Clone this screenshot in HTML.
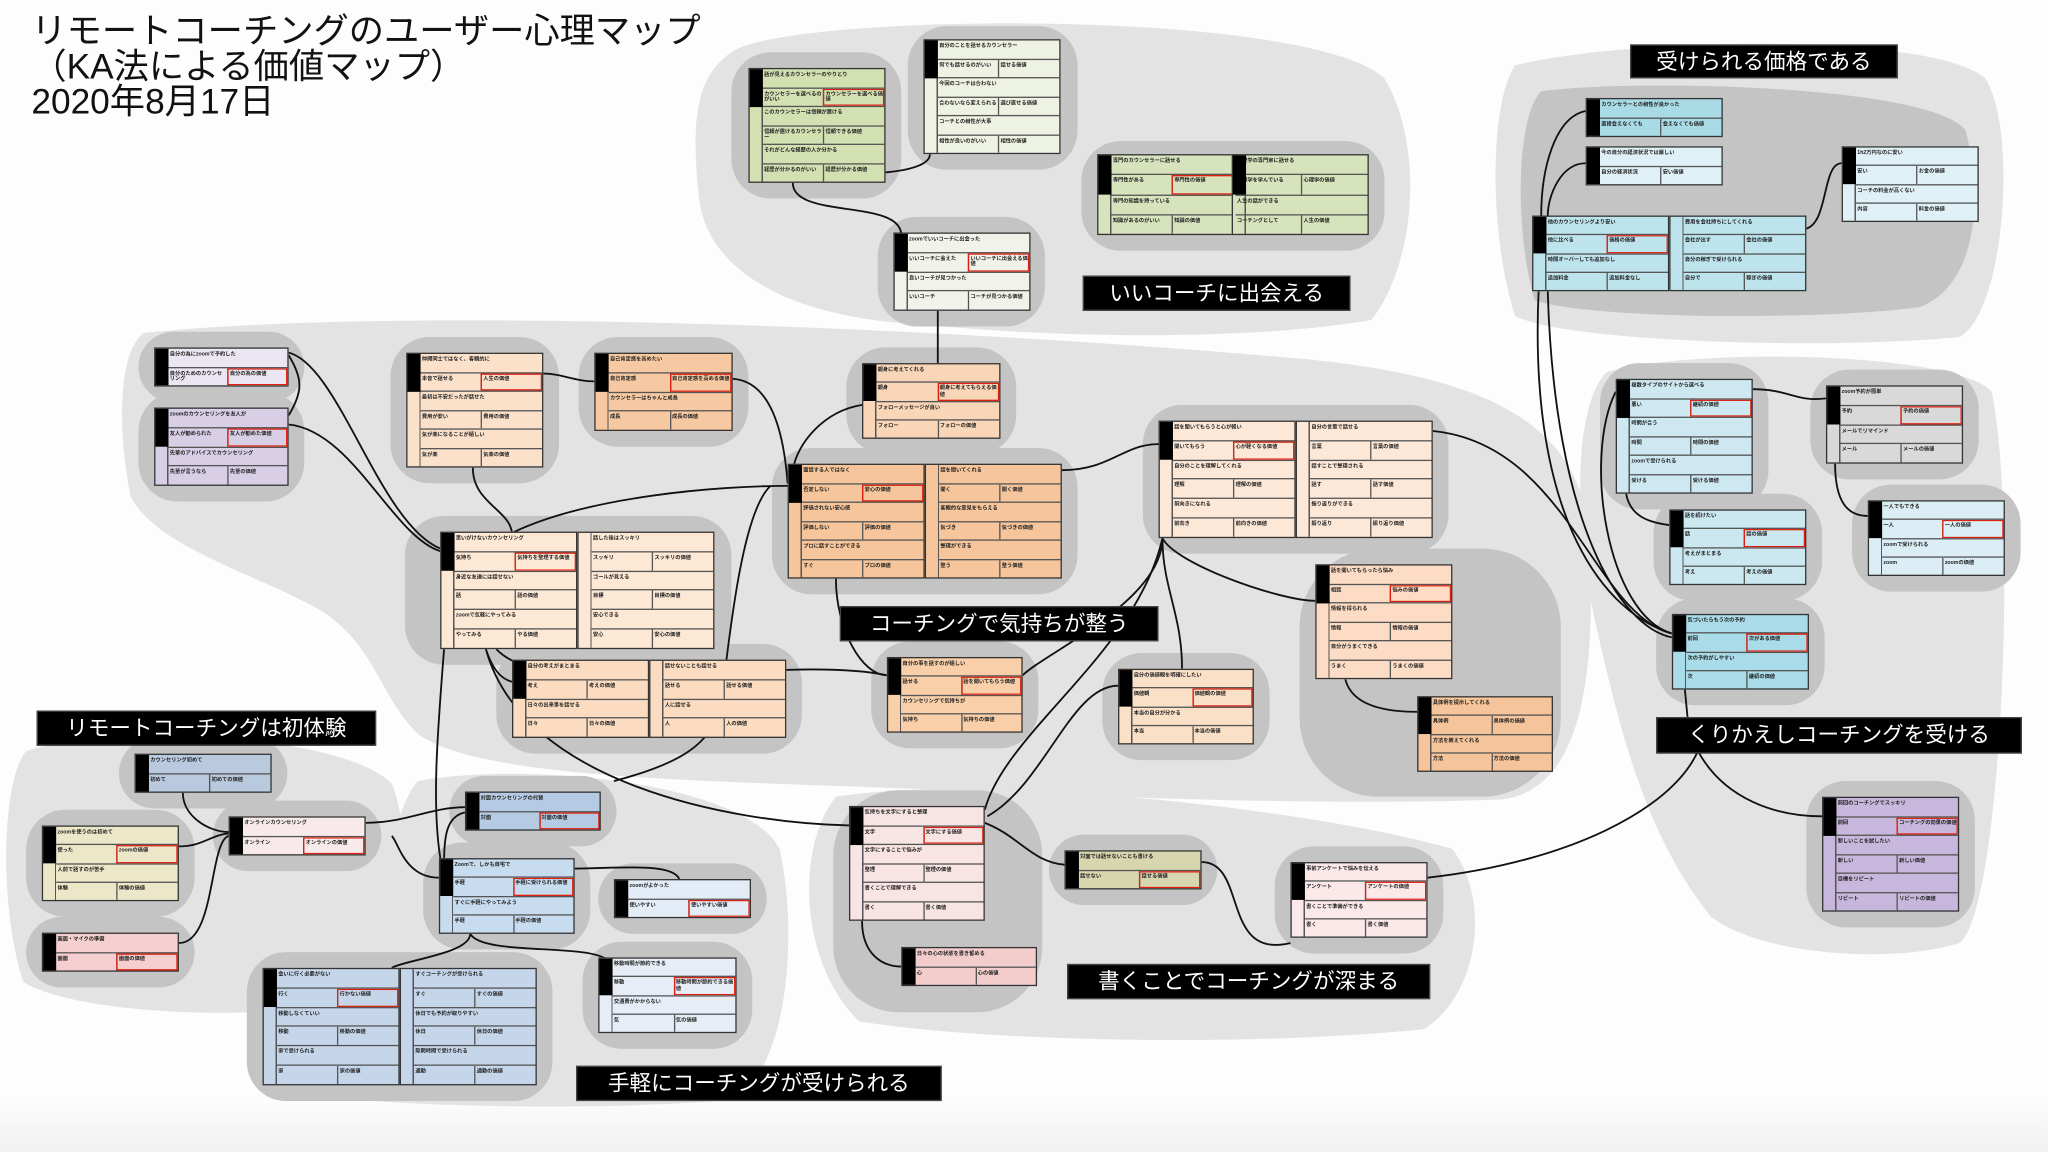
<!DOCTYPE html>
<html><head><meta charset="utf-8">
<style>
html,body{margin:0;padding:0;width:2048px;height:1152px;overflow:hidden;background:#fdfdfd}
#w{position:absolute;left:0;top:0;width:1568px;height:882px;transform:scale(1.30612);transform-origin:0 0;
 background:linear-gradient(to bottom,#fdfdfd 0,#fdfdfd 840px,#f1f1f1 882px)}
svg{position:absolute;left:0;top:0}
.h{position:absolute;background:#c4c4c4;border-radius:30px}
.c{position:absolute;border:1px solid #333;box-sizing:border-box;padding-left:10px;display:flex;flex-direction:column;
 font:bold 4px/1.1 "Liberation Sans","Noto Sans CJK JP",sans-serif;color:#222;
 background:linear-gradient(to right,transparent 9px,#555 9px 10px,transparent 10px),var(--b)}
.c::before{content:"";position:absolute;left:0;top:0;width:10px;height:var(--k,33.4%);background:#000}
.c>div{flex:1;border-bottom:1px solid #555;display:flex;overflow:hidden}
.c>div:last-child{border-bottom:0}
.c>div>span{flex:1;padding:2px 1px;overflow:hidden}
.c>div>span+span{border-left:1px solid #555}
.r{outline:1.5px solid #e02010;outline-offset:-1.5px}
.k4{--k:50%}.k2{--k:100%}
.L{position:absolute;background:#000;color:#fff;font:16.5px/27px "Liberation Sans","Noto Sans CJK JP",sans-serif;text-align:center;white-space:nowrap;border:1px solid #444;box-sizing:border-box;height:27px}
.t{position:absolute;left:24px;top:11px;font:27px/27px "Liberation Sans","Noto Sans CJK JP",sans-serif;color:#111;white-space:nowrap}
</style></head><body><div id="w">
<svg width="1568" height="882" viewBox="0 0 1568 882">
<g fill="#e3e3e3">
<path d="M560,40 C600,10 1000,5 1060,60 C1090,110 1085,200 1050,245 C950,262 800,258 700,248 C600,242 540,205 535,150 C530,100 530,60 560,40Z"/>
<path d="M1160,50 C1250,28 1480,25 1520,60 C1545,100 1535,240 1500,258 C1400,268 1200,262 1160,242 C1140,180 1140,80 1160,50Z"/>
<path d="M110,255 C300,235 700,248 1000,275 C1150,290 1215,330 1217,420 C1222,520 1210,605 1150,612 C1000,618 800,608 650,602 C500,597 360,592 320,562 C290,532 290,500 250,470 C200,440 120,420 100,380 C90,330 90,270 110,255Z"/>
<path d="M1230,285 C1300,265 1500,270 1525,300 C1545,400 1532,700 1500,722 C1450,738 1350,732 1310,702 C1260,640 1240,560 1220,470 C1205,400 1205,310 1230,285Z"/>
<path d="M20,575 C80,555 260,560 300,600 C320,650 305,742 262,767 C200,782 60,777 18,752 C0,700 0,600 20,575Z"/>
<path d="M320,598 C400,583 570,598 597,650 C612,720 602,822 560,842 C450,852 250,847 203,832 C188,790 198,720 258,700 C300,680 300,620 320,598Z"/>
<path d="M640,610 C750,592 1000,618 1112,650 C1142,690 1132,762 1090,788 C950,802 750,797 658,782 C613,740 608,650 640,610Z"/>
</g>
<path d="M1180,70 C1250,60 1480,65 1505,100 C1520,160 1510,220 1470,235 C1400,245 1220,245 1175,230 C1160,180 1160,90 1180,70Z" fill="#c4c4c4"/>
</svg>
<div class="h" style="left:560px;top:40px;width:130px;height:112px"></div>
<div class="h" style="left:695px;top:20px;width:130px;height:110px"></div>
<div class="h" style="left:828px;top:108px;width:232px;height:84px"></div>
<div class="h" style="left:672px;top:166px;width:128px;height:84px"></div>
<div class="h" style="left:106px;top:254px;width:127px;height:54px"></div>
<div class="h" style="left:106px;top:300px;width:127px;height:84px"></div>
<div class="h" style="left:299px;top:258px;width:129px;height:112px"></div>
<div class="h" style="left:443px;top:258px;width:130px;height:84px"></div>
<div class="h" style="left:648px;top:266px;width:130px;height:82px"></div>
<div class="h" style="left:591px;top:343px;width:234px;height:112px"></div>
<div class="h" style="left:310px;top:395px;width:250px;height:114px"></div>
<div class="h" style="left:875px;top:310px;width:234px;height:114px"></div>
<div class="h" style="left:380px;top:493px;width:234px;height:84px"></div>
<div class="h" style="left:667px;top:491px;width:128px;height:82px"></div>
<div class="h" style="left:844px;top:500px;width:128px;height:82px"></div>
<div class="h" style="left:995px;top:420px;width:200px;height:190px;border-radius:60px"></div>
<div class="h" style="left:1225px;top:278px;width:129px;height:112px"></div>
<div class="h" style="left:1386px;top:283px;width:129px;height:84px"></div>
<div class="h" style="left:1266px;top:378px;width:129px;height:82px"></div>
<div class="h" style="left:1418px;top:371px;width:129px;height:82px"></div>
<div class="h" style="left:1268px;top:458px;width:129px;height:82px"></div>
<div class="h" style="left:1383px;top:598px;width:129px;height:112px"></div>
<div class="h" style="left:91px;top:565px;width:129px;height:54px"></div>
<div class="h" style="left:20px;top:620px;width:129px;height:82px"></div>
<div class="h" style="left:163px;top:613px;width:129px;height:54px"></div>
<div class="h" style="left:20px;top:702px;width:129px;height:54px"></div>
<div class="h" style="left:344px;top:594px;width:128px;height:54px"></div>
<div class="h" style="left:324px;top:645px;width:128px;height:82px"></div>
<div class="h" style="left:458px;top:661px;width:129px;height:54px"></div>
<div class="h" style="left:189px;top:729px;width:234px;height:114px"></div>
<div class="h" style="left:446px;top:721px;width:130px;height:82px"></div>
<div class="h" style="left:638px;top:605px;width:160px;height:170px;border-radius:50px"></div>
<div class="h" style="left:803px;top:639px;width:129px;height:54px"></div>
<div class="h" style="left:976px;top:648px;width:129px;height:82px"></div>

<svg width="1568" height="882" viewBox="0 0 1568 882" fill="none" stroke="#111" stroke-width="1.4">
<path d="M607,140 C607,168 690,152 690,180"/>
<path d="M678,132 C700,130 712,125 712,118"/>
<path d="M718,238 L718,278"/>
<path d="M221,270 C260,280 290,400 337,420"/>
<path d="M221,272 C232,290 232,300 221,318"/>
<path d="M221,325 C270,330 300,410 337,422"/>
<path d="M362,358 C362,385 390,390 392,408"/>
<path d="M416,286 C430,286 440,292 455,292"/>
<path d="M561,290 C590,292 600,330 603,370"/>
<path d="M392,408 C450,380 550,372 603,372"/>
<path d="M660,310 C630,315 610,340 607,360"/>
<path d="M590,372 C570,390 560,470 552,540 C545,570 520,585 470,598"/>
<path d="M372,497 C378,515 385,520 392,522"/>
<path d="M380,497 C420,540 600,500 679,517"/>
<path d="M640,443 C640,482 660,517 679,517"/>
<path d="M813,360 C850,360 860,340 887,340"/>
<path d="M890,412 C890,460 800,500 783,517"/>
<path d="M890,412 C890,450 905,470 905,512"/>
<path d="M890,412 C900,432 980,460 1007,460"/>
<path d="M1097,330 C1200,340 1220,470 1280,485"/>
<path d="M1030,520 C1035,540 1060,545 1085,545"/>
<path d="M856,525 C820,525 800,600 756,625"/>
<path d="M340,497 C335,560 330,620 338,662"/>
<path d="M372,497 C400,600 560,630 650,632"/>
<path d="M754,620 C770,560 870,500 890,412"/>
<path d="M754,630 C780,640 790,660 815,662"/>
<path d="M660,705 C660,730 675,740 690,740"/>
<path d="M920,660 C955,660 935,735 988,722"/>
<path d="M1093,672 C1200,660 1280,620 1300,575"/>
<path d="M1292,549 L1290,528"/>
<path d="M1300,575 C1320,612 1360,625 1395,625"/>
<path d="M1178,223 C1170,400 1230,470 1280,485"/>
<path d="M1185,223 C1190,400 1240,480 1280,488"/>
<path d="M1214,85 C1190,90 1180,130 1180,165"/>
<path d="M1214,125 C1195,125 1185,150 1185,165"/>
<path d="M1383,175 C1400,170 1395,125 1410,125"/>
<path d="M1237,300 C1212,350 1230,470 1280,485"/>
<path d="M1342,298 C1370,298 1375,308 1398,305"/>
<path d="M1245,378 C1248,395 1262,400 1278,402"/>
<path d="M1405,355 C1405,385 1415,395 1430,395"/>
<path d="M140,607 C140,625 160,637 175,637"/>
<path d="M137,648 C155,648 160,640 175,638"/>
<path d="M137,722 C165,722 160,645 175,640"/>
<path d="M280,630 C310,630 330,618 356,618"/>
<path d="M356,622 C342,625 340,640 340,660"/>
<path d="M336,672 C310,672 305,645 300,640"/>
<path d="M440,665 C470,665 515,660 520,673"/>
<path d="M360,715 C360,730 310,735 300,741"/>
<path d="M360,715 C370,732 450,722 465,735"/>
</svg>

<div class="t">リモートコーチングのユーザー心理マップ<br>（KA法による価値マップ）<br>2020年8月17日</div>

<div class="c" style="left:573px;top:52px;width:105px;height:88px;--b:#d3e1b2"><div><span>話が見えるカウンセラーのやりとり</span></div><div><span>カウンセラーを選べるのがいい</span><span class="r">カウンセラーを選べる価値</span></div><div><span>このカウンセラーは信頼が置ける</span></div><div><span>信頼が置けるカウンセラー</span><span>信頼できる価値</span></div><div><span>それがどんな経歴の人か分かる</span></div><div><span>経歴が分かるのがいい</span><span>経歴が分かる価値</span></div></div>
<div class="c" style="left:707px;top:30px;width:105px;height:88px;--b:#eef2e3"><div><span>自分のことを話せるカウンセラー</span></div><div><span>何でも話せるのがいい</span><span>話せる価値</span></div><div><span>今回のコーチは合わない</span></div><div><span>合わないなら変えられる</span><span>選び直せる価値</span></div><div><span>コーチとの相性が大事</span></div><div><span>相性が良いのがいい</span><span>相性の価値</span></div></div>
<div class="c k4" style="left:840px;top:118px;width:105px;height:62px;--b:#d6e3bc"><div><span>専門のカウンセラーに話せる</span></div><div><span>専門性がある</span><span class="r">専門性の価値</span></div><div><span>専門の知識を持っている</span></div><div><span>知識があるのがいい</span><span>知識の価値</span></div></div>
<div class="c k4" style="left:943px;top:118px;width:105px;height:62px;--b:#d6e3bc;padding-left:2px"><div><span>心理学の専門家に話せる</span></div><div><span>心理学を学んでいる</span><span>心理学の価値</span></div><div><span>人生の話ができる</span></div><div><span>コーチングとして</span><span>人生の価値</span></div></div>
<div class="c k4" style="left:684px;top:178px;width:105px;height:60px;--b:#f1f3ea"><div><span>zoomでいいコーチに出会った</span></div><div><span>いいコーチに会えた</span><span class="r">いいコーチに出会える価値</span></div><div><span>良いコーチが見つかった</span></div><div><span>いいコーチ</span><span>コーチが見つかる価値</span></div></div>
<div class="L" style="left:829px;top:211px;width:205px">いいコーチに出会える</div>

<div class="L" style="left:1248px;top:34px;width:205px;height:26px;line-height:26px">受けられる価格である</div>
<div class="c k2" style="left:1214px;top:75px;width:105px;height:30px;--b:#a9dbe6"><div><span>カウンセラーとの相性が良かった</span></div><div><span>直接会えなくても</span><span>会えなくても価値</span></div></div>
<div class="c k2" style="left:1214px;top:112px;width:105px;height:30px;--b:#dff1f6"><div><span>今の自分の経済状況では厳しい</span></div><div><span>自分の経済状況</span><span>安い価値</span></div></div>
<div class="c k4" style="left:1173px;top:165px;width:105px;height:58px;--b:#bde3ec"><div><span>他のカウンセリングより安い</span></div><div><span>他に比べる</span><span class="r">価格の価値</span></div><div><span>時間オーバーしても追加なし</span></div><div><span>追加料金</span><span>追加料金なし</span></div></div>
<div class="c k4" style="left:1278px;top:165px;width:105px;height:58px;--b:#bde3ec;--k:0%"><div><span>費用を会社持ちにしてくれる</span></div><div><span>会社が出す</span><span>会社の価値</span></div><div><span>自分の稼ぎで受けられる</span></div><div><span>自分で</span><span>稼ぎの価値</span></div></div>
<div class="c k4" style="left:1410px;top:112px;width:105px;height:58px;--b:#dff0f6"><div><span>1h2万円なのに安い</span></div><div><span>安い</span><span>お金の価値</span></div><div><span>コーチの料金が高くない</span></div><div><span>内容</span><span>料金の価値</span></div></div>

<div class="c k2" style="left:118px;top:266px;width:103px;height:30px;--b:#ebe6f2"><div><span>自分の為にzoomで予約した</span></div><div><span>自分のためのカウンセリング</span><span class="r">自分の為の価値</span></div></div>
<div class="c k4" style="left:118px;top:312px;width:103px;height:60px;--b:#d8cfe7"><div><span>zoomのカウンセリングを友人が</span></div><div><span>友人が勧められた</span><span class="r">友人が勧めた価値</span></div><div><span>先輩のアドバイスでカウンセリング</span></div><div><span>先輩が言うなら</span><span>先輩の価値</span></div></div>
<div class="c" style="left:311px;top:270px;width:105px;height:88px;--b:#fbe1ca"><div><span>仲間同士ではなく、客観的に</span></div><div><span>本音で話せる</span><span class="r">人生の価値</span></div><div><span>最初は不安だったが話せた</span></div><div><span>費用が安い</span><span>費用の価値</span></div><div><span>気が楽になることが嬉しい</span></div><div><span>気が楽</span><span>気楽の価値</span></div></div>
<div class="c k4" style="left:455px;top:270px;width:106px;height:60px;--b:#f7c9a2"><div><span>自己肯定感を高めたい</span></div><div><span>自己肯定感</span><span class="r">自己肯定感を高める価値</span></div><div><span>カウンセラーはちゃんと成長</span></div><div><span>成長</span><span>成長の価値</span></div></div>
<div class="c k4" style="left:660px;top:278px;width:106px;height:58px;--b:#fad6b8"><div><span>親身に考えてくれる</span></div><div><span>親身</span><span class="r">親身に考えてもらえる価値</span></div><div><span>フォローメッセージが良い</span></div><div><span>フォロー</span><span>フォローの価値</span></div></div>
<div class="c" style="left:603px;top:355px;width:105px;height:88px;--b:#f6c59b"><div><span>面談する人ではなく</span></div><div><span>否定しない</span><span class="r">安心の価値</span></div><div><span>評価されない安心感</span></div><div><span>評価しない</span><span>評価の価値</span></div><div><span>プロに話すことができる</span></div><div><span>すぐ</span><span>プロの価値</span></div></div>
<div class="c" style="left:708px;top:355px;width:105px;height:88px;--b:#f6c59b;--k:0%"><div><span>話を聞いてくれる</span></div><div><span>聞く</span><span>聞く価値</span></div><div><span>客観的な意見をもらえる</span></div><div><span>気づき</span><span>気づきの価値</span></div><div><span>整理ができる</span></div><div><span>整う</span><span>整う価値</span></div></div>
<div class="c" style="left:337px;top:407px;width:105px;height:90px;--b:#fde7d5"><div><span>思いがけないカウンセリング</span></div><div><span>気持ち</span><span class="r">気持ちを整理する価値</span></div><div><span>身近な友達には話せない</span></div><div><span>話</span><span>話の価値</span></div><div><span>zoomで気軽にやってみる</span></div><div><span>やってみる</span><span>やる価値</span></div></div>
<div class="c" style="left:442px;top:407px;width:105px;height:90px;--b:#fde7d5;--k:0%"><div><span>話した後はスッキリ</span></div><div><span>スッキリ</span><span>スッキリの価値</span></div><div><span>ゴールが見える</span></div><div><span>目標</span><span>目標の価値</span></div><div><span>安心できる</span></div><div><span>安心</span><span>安心の価値</span></div></div>
<div class="c" style="left:887px;top:322px;width:105px;height:90px;--b:#fde8d8"><div><span>話を聞いてもらうと心が軽い</span></div><div><span>聞いてもらう</span><span class="r">心が軽くなる価値</span></div><div><span>自分のことを理解してくれる</span></div><div><span>理解</span><span>理解の価値</span></div><div><span>前向きになれる</span></div><div><span>前向き</span><span>前向きの価値</span></div></div>
<div class="c" style="left:992px;top:322px;width:105px;height:90px;--b:#fde8d8;--k:0%"><div><span>自分の言葉で話せる</span></div><div><span>言葉</span><span>言葉の価値</span></div><div><span>話すことで整理される</span></div><div><span>話す</span><span>話す価値</span></div><div><span>振り返りができる</span></div><div><span>振り返り</span><span>振り返り価値</span></div></div>
<div class="c k4" style="left:392px;top:505px;width:105px;height:60px;--b:#fbdcc0"><div><span>自分の考えがまとまる</span></div><div><span>考え</span><span>考えの価値</span></div><div><span>日々の出来事を話せる</span></div><div><span>日々</span><span>日々の価値</span></div></div>
<div class="c k4" style="left:497px;top:505px;width:105px;height:60px;--b:#fbdcc0;--k:0%"><div><span>話せないことも話せる</span></div><div><span>話せる</span><span>話せる価値</span></div><div><span>人に話せる</span></div><div><span>人</span><span>人の価値</span></div></div>
<div class="c k4" style="left:679px;top:503px;width:104px;height:58px;--b:#f8cfa8"><div><span>自分の事を話すのが嬉しい</span></div><div><span>話せる</span><span class="r">話を聞いてもらう価値</span></div><div><span>カウンセリングで気持ちが</span></div><div><span>気持ち</span><span>気持ちの価値</span></div></div>
<div class="c k4" style="left:856px;top:512px;width:104px;height:58px;--b:#fbe0c8"><div><span>自分の価値観を明確にしたい</span></div><div><span>価値観</span><span class="r">価値観の価値</span></div><div><span>本当の自分が分かる</span></div><div><span>本当</span><span>本当の価値</span></div></div>
<div class="c" style="left:1007px;top:432px;width:105px;height:88px;--b:#fcdcc4"><div><span>話を聞いてもらったら悩み</span></div><div><span>相談</span><span class="r">悩みの価値</span></div><div><span>情報を得られる</span></div><div><span>情報</span><span>情報の価値</span></div><div><span>自分がうまくできる</span></div><div><span>うまく</span><span>うまくの価値</span></div></div>
<div class="c k4" style="left:1085px;top:533px;width:104px;height:58px;--b:#f6c49a"><div><span>具体例を提示してくれる</span></div><div><span>具体例</span><span>具体例の価値</span></div><div><span>方法を教えてくれる</span></div><div><span>方法</span><span>方法の価値</span></div></div>
<div class="L" style="left:643px;top:464px;width:244px">コーチングで気持ちが整う</div>

<div class="c" style="left:1237px;top:290px;width:105px;height:88px;--b:#cde8f1"><div><span>複数タイプのサイトから選べる</span></div><div><span>悪い</span><span class="r">継続の価値</span></div><div><span>時間が合う</span></div><div><span>時間</span><span>時間の価値</span></div><div><span>zoomで受けられる</span></div><div><span>受ける</span><span>受ける価値</span></div></div>
<div class="c k4" style="left:1398px;top:295px;width:105px;height:60px;--b:#d9d9d9"><div><span>zoom予約が簡単</span></div><div><span>予約</span><span class="r">予約の価値</span></div><div><span>メールでリマインド</span></div><div><span>メール</span><span>メールの価値</span></div></div>
<div class="c k4" style="left:1278px;top:390px;width:105px;height:58px;--b:#cbe8f1"><div><span>話を続けたい</span></div><div><span>話</span><span class="r">話の価値</span></div><div><span>考えがまとまる</span></div><div><span>考え</span><span>考えの価値</span></div></div>
<div class="c k4" style="left:1430px;top:383px;width:105px;height:58px;--b:#dbeef5"><div><span>一人でもできる</span></div><div><span>一人</span><span class="r">一人の価値</span></div><div><span>zoomで受けられる</span></div><div><span>zoom</span><span>zoomの価値</span></div></div>
<div class="c k4" style="left:1280px;top:470px;width:105px;height:58px;--b:#a9dce8"><div><span>気づいたらもう次の予約</span></div><div><span>前回</span><span class="r">次がある価値</span></div><div><span>次の予約がしやすい</span></div><div><span>次</span><span>継続の価値</span></div></div>
<div class="L" style="left:1268px;top:549px;width:280px;height:28px">くりかえしコーチングを受ける</div>
<div class="c" style="left:1395px;top:610px;width:105px;height:88px;--b:#c8b7dc"><div><span>前回のコーチングでスッキリ</span></div><div><span>前回</span><span class="r">コーチングの効果の価値</span></div><div><span>新しいことを試したい</span></div><div><span>新しい</span><span>新しい価値</span></div><div><span>目標をリピート</span></div><div><span>リピート</span><span>リピートの価値</span></div></div>

<div class="L" style="left:28px;top:544px;width:260px">リモートコーチングは初体験</div>
<div class="c k2" style="left:103px;top:577px;width:105px;height:30px;--b:#b9c9de"><div><span>カウンセリング初めて</span></div><div><span>初めて</span><span>初めての価値</span></div></div>
<div class="c k4" style="left:32px;top:632px;width:105px;height:58px;--b:#ede7c9"><div><span>zoomを使うのは初めて</span></div><div><span>使った</span><span class="r">zoomの価値</span></div><div><span>人前で話すのが苦手</span></div><div><span>体験</span><span>体験の価値</span></div></div>
<div class="c k2" style="left:175px;top:625px;width:105px;height:30px;--b:#f8eaea"><div><span>オンラインカウンセリング</span></div><div><span>オンライン</span><span class="r">オンラインの価値</span></div></div>
<div class="c k2" style="left:32px;top:714px;width:105px;height:30px;--b:#f5cfcf"><div><span>画面・マイクの準備</span></div><div><span>画面</span><span class="r">画面の価値</span></div></div>

<div class="c k2" style="left:356px;top:606px;width:104px;height:30px;--b:#b5cbe3"><div><span>対面カウンセリングの代替</span></div><div><span>対面</span><span class="r">対面の価値</span></div></div>
<div class="c k4" style="left:336px;top:657px;width:104px;height:58px;--b:#c8dcef"><div><span>Zoomで、しかも自宅で</span></div><div><span>手軽</span><span class="r">手軽に受けられる価値</span></div><div><span>すぐに手軽にやってみよう</span></div><div><span>手軽</span><span>手軽の価値</span></div></div>
<div class="c k2" style="left:470px;top:673px;width:105px;height:30px;--b:#e4edf7"><div><span>zoomがよかった</span></div><div><span>使いやすい</span><span class="r">使いやすい価値</span></div></div>
<div class="c" style="left:201px;top:741px;width:105px;height:90px;--b:#c5d6ea"><div><span>会いに行く必要がない</span></div><div><span>行く</span><span class="r">行かない価値</span></div><div><span>移動しなくていい</span></div><div><span>移動</span><span>移動の価値</span></div><div><span>家で受けられる</span></div><div><span>家</span><span>家の価値</span></div></div>
<div class="c" style="left:306px;top:741px;width:105px;height:90px;--b:#c5d6ea;--k:0%"><div><span>すぐコーチングが受けられる</span></div><div><span>すぐ</span><span>すぐの価値</span></div><div><span>休日でも予約が取りやすい</span></div><div><span>休日</span><span>休日の価値</span></div><div><span>隙間時間で受けられる</span></div><div><span>通勤</span><span>通勤の価値</span></div></div>
<div class="c k4" style="left:458px;top:733px;width:106px;height:58px;--b:#e6edf6"><div><span>移動時間が節約できる</span></div><div><span>移動</span><span class="r">移動時間が節約できる価値</span></div><div><span>交通費がかからない</span></div><div><span>気</span><span>気の価値</span></div></div>
<div class="L" style="left:441px;top:816px;width:280px">手軽にコーチングが受けられる</div>

<div class="c" style="left:650px;top:617px;width:104px;height:88px;--b:#f9e4e4"><div><span>気持ちを文字にすると整理</span></div><div><span>文字</span><span class="r">文字にする価値</span></div><div><span>文字にすることで悩みが</span></div><div><span>整理</span><span>整理の価値</span></div><div><span>書くことで理解できる</span></div><div><span>書く</span><span>書く価値</span></div></div>
<div class="c k2" style="left:690px;top:725px;width:104px;height:30px;--b:#f3cccc"><div><span>日々の心の状態を書き留める</span></div><div><span>心</span><span>心の価値</span></div></div>
<div class="c k2" style="left:815px;top:651px;width:105px;height:30px;--b:#d7d6af"><div><span>対面では話せないことも書ける</span></div><div><span>話せない</span><span class="r">話せる価値</span></div></div>
<div class="c k4" style="left:988px;top:660px;width:105px;height:58px;--b:#fbe9ea"><div><span>事前アンケートで悩みを伝える</span></div><div><span>アンケート</span><span class="r">アンケートの価値</span></div><div><span>書くことで準備ができる</span></div><div><span>書く</span><span>書く価値</span></div></div>
<div class="L" style="left:817px;top:738px;width:278px">書くことでコーチングが深まる</div>
</div></body></html>
